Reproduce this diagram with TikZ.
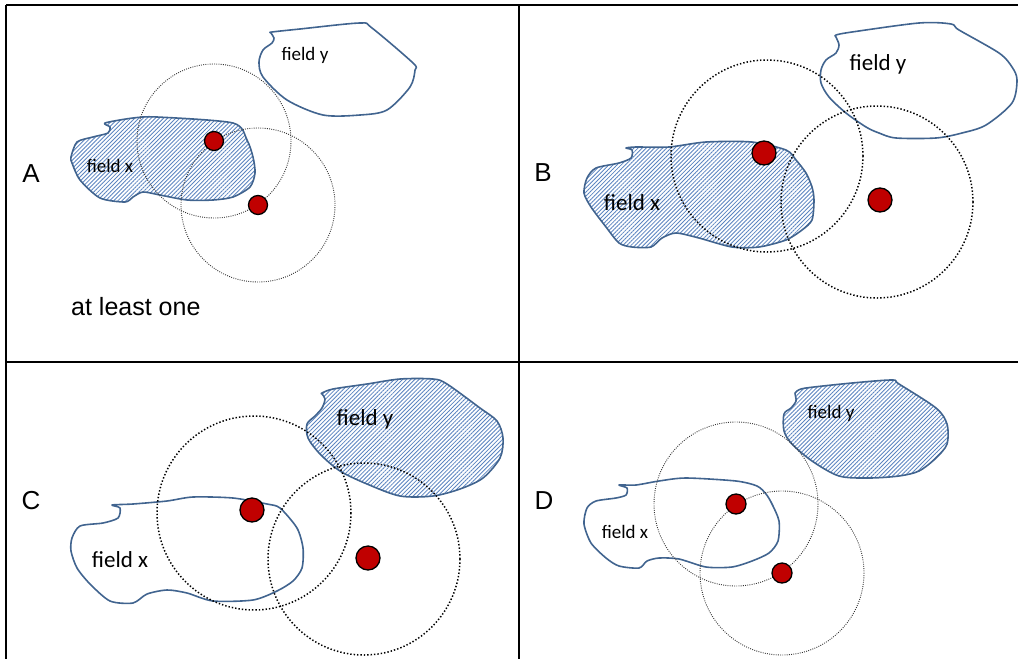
\documentclass[tikz,border=0pt]{standalone}
\usepackage{fontspec}
\setmainfont{Liberation Sans}
\newfontfamily\calib{Carlito}
\usetikzlibrary{patterns.meta}
\definecolor{fieldblue}{HTML}{41648F}
\definecolor{hatchblue}{HTML}{5B84C0}
\definecolor{dotred}{HTML}{C00000}
\tikzset{
  gridline/.style={line width=2.2pt, black},
  blob/.style={draw=fieldblue, line width=1.6pt, line join=round},
  hatched/.style={blob, pattern={Lines[angle=45, distance=2.9pt, line width=0.85pt]}, pattern color=hatchblue},
  thinring/.style={draw=black!80, line width=0.9pt, dash pattern=on 0.9pt off 1.3pt},
  boldring/.style={draw=black, line width=1.5pt, dash pattern=on 1.4pt off 2pt},
  reddot/.style={circle, fill=dotred, draw=black, line width=1.3pt, inner sep=0pt, minimum size=#1},
  bigletter/.style={font=\fontsize{26}{28}\selectfont, inner sep=0pt},
  fieldlbl/.style={font=\calib\fontsize{#1}{#1}\selectfont, inner sep=0pt},
}
\begin{document}
\begin{tikzpicture}[x=1pt, y=-1pt]
\useasboundingbox (0,0) rectangle (1019,659);
% table
\draw[gridline] (6,5) -- (1018,5);
\draw[gridline] (6,5) -- (6,659);
\draw[gridline] (519,5) -- (519,659);
\draw[gridline] (6,362) -- (1018,362);

% ================= Panel A =================
\draw[blob] plot[smooth cycle, tension=0.5] coordinates {
 (272,32) (300,29) (360,23) (372,28) (413,63) (415,70) (410,87) (387,110)
 (360,115) (323,115) (287,100) (263,77) (259,62) (263,50) (272,43) (274,38) (271,33)};
\draw[hatched] plot[smooth cycle, tension=0.45] coordinates {
 (105,123) (133,118) (157,117) (233,123) (247,140) (253,157) (255,173) (250,187)
 (233,197) (213,200) (187,200) (160,195) (143,192) (133,197) (125,202)
 (100,198) (80,180) (72,163) (71,157) (77,142) (93,137) (108,133) (110,127)};
\node[fieldlbl=19] (Ay) at (305,55) {field y};
\node[fieldlbl=19] (Ax) at (110,166) {field x};
\coordinate (Ac1) at (214,141);
\coordinate (Ac2) at (258,205);
\draw[thinring] (Ac1) circle (77);
\draw[thinring] (Ac2) circle (77);
\node[reddot=19pt] (Ad1) at (Ac1) {};
\node[reddot=19pt] (Ad2) at (Ac2) {};
\node[bigletter] (A) at (31,174) {A};
\node[font=\fontsize{25}{27}\selectfont, inner sep=0pt, anchor=base west] (Alab) at (71,315) {at least one};

% ================= Panel B =================
\begin{scope}[shift={(519,0)}]
\draw[blob] plot[smooth cycle, tension=0.5] coordinates {
 (317,35) (333,32) (400,23) (432,24) (440,30) (480,53) (493,67) (498,80)
 (493,103) (467,125) (443,133) (417,138) (377,138) (360,133) (347,127)
 (327,113) (310,97) (302,83) (302,70) (307,60) (317,53) (320,45) (317,37)};
\draw[hatched] plot[smooth cycle, tension=0.45] coordinates {
 (107,148) (113,150) (112,158) (100,163) (77,168) (68,178) (65,193)
 (72,207) (87,227) (100,243) (113,247) (132,247) (143,238) (157,233)
 (180,238) (213,247) (240,247) (267,240) (283,230) (293,220) (295,200)
 (293,187) (287,173) (277,160) (267,150) (233,142) (187,142) (150,147) (117,147)};
\node[fieldlbl=23] (By) at (359,64) {field y};
\node[fieldlbl=23] (Bx) at (113,203) {field x};
\coordinate (Bc1) at (245,153);
\coordinate (Bc2) at (361,200);
\draw[boldring] (248,156) circle (96);
\draw[boldring] (358,202) circle (96);
\node[reddot=24pt] (Bd1) at (Bc1) {};
\node[reddot=24pt] (Bd2) at (Bc2) {};
\node[bigletter] (B) at (24,173) {B};
\end{scope}

% ================= Panel C =================
\begin{scope}[shift={(0,361)}]
\draw[hatched] plot[smooth cycle, tension=0.5] coordinates {
 (322,32) (333,28) (367,23) (400,18) (433,18) (447,23) (480,47) (497,60)
 (503,77) (500,97) (483,117) (460,128) (433,135) (400,135) (367,123)
 (340,110) (320,93) (308,77) (307,63) (315,55) (322,47) (325,38) (322,33)};
\draw[blob] plot[smooth cycle, tension=0.45] coordinates {
 (112,144) (120,147) (118,157) (103,162) (80,165) (72,177) (71,190)
 (77,207) (90,223) (110,240) (133,242) (147,233) (167,229) (187,232)
 (213,240) (253,239) (277,230) (293,220) (302,207) (303,187) (297,167)
 (280,147) (267,143) (233,137) (193,136) (167,140) (133,143)};
\node[fieldlbl=23] (Cy) at (365,58) {field y};
\node[fieldlbl=23] (Cx) at (120,199) {field x};
\coordinate (Cc1) at (252,149);
\coordinate (Cc2) at (368,197);
\draw[boldring] (254,152) circle (97);
\draw[boldring] (364,198) circle (96);
\node[reddot=24pt] (Cd1) at (Cc1) {};
\node[reddot=24pt] (Cd2) at (Cc2) {};
\node[bigletter] (C) at (31,140) {C};
\end{scope}

% ================= Panel D =================
\begin{scope}[shift={(519,361)}]
\draw[hatched] plot[smooth cycle, tension=0.5] coordinates {
 (278,30) (287,27) (333,22) (373,19) (380,23) (417,47) (428,63) (428,83)
 (417,97) (400,110) (380,115) (350,117) (320,115) (293,100) (273,83)
 (265,70) (265,53) (272,47) (277,40) (276,32)};
\draw[blob] plot[smooth cycle, tension=0.45] coordinates {
 (100,124) (108,127) (107,134) (97,137) (77,140) (68,147) (65,163)
 (72,182) (87,197) (100,205) (120,207) (128,200) (140,197) (160,198)
 (187,206) (213,206) (233,200) (250,192) (259,180) (260,160) (253,143)
 (247,133) (238,125) (217,120) (167,117) (140,120) (117,124)};
\node[fieldlbl=19] (Dy) at (312,52) {field y};
\node[fieldlbl=19] (Dx) at (106,171) {field x};
\coordinate (Dc1) at (217,143);
\coordinate (Dc2) at (263,212);
\draw[thinring] (Dc1) circle (82);
\draw[thinring] (Dc2) circle (82);
\node[reddot=20pt] (Dd1) at (Dc1) {};
\node[reddot=20pt] (Dd2) at (Dc2) {};
\node[bigletter] (D) at (25,140) {D};
\end{scope}
\end{tikzpicture}
\end{document}
